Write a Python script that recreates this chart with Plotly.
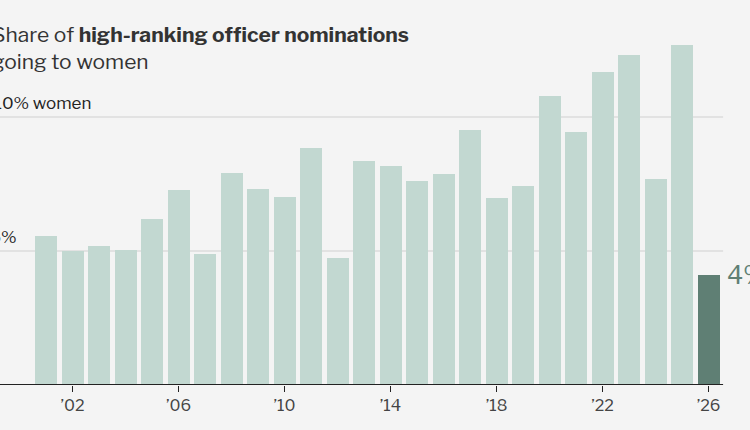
import plotly.graph_objects as go

years = list(range(2001, 2027))
share = [5.56, 5.0, 5.19, 5.04, 6.19, 7.28, 4.89, 7.91, 7.31, 7.01, 8.84, 4.74, 8.36,
         8.17, 7.61, 7.87, 9.51, 6.98, 7.43, 10.78, 9.44, 11.68, 12.31, 7.69, 12.69, 4.10]
tick_years = [2002, 2006, 2010, 2014, 2018, 2022, 2026]
tick_labels = ["\u201902", "\u201906", "\u201910", "\u201914", "\u201918", "\u201922", "\u201926"]

colors = ["#c2d8d1"] * (len(years) - 1) + ["#5f7f74"]
font = "Libre Franklin, Lato, Liberation Sans, sans-serif"

fig = go.Figure()
fig.add_trace(go.Bar(x=years, y=share, marker_color=colors, width=0.83,
                     marker_line_width=0, hoverinfo="skip"))

x0, x1 = 1999.264, 2027.566
for g in [5, 10]:
    fig.add_shape(type="line", x0=x0, x1=2026.55, y0=g, y1=g,
                  line=dict(color="#dcdcdc", width=1.5), layer="below")
fig.add_shape(type="line", x0=x0, x1=2026.55, y0=0, y1=0,
              line=dict(color="#222222", width=2))

fig.add_annotation(x=x0, y=10, xref="x", yref="y", text="10% women", showarrow=False,
                   xanchor="left", yanchor="bottom", xshift=-8, yshift=2,
                   font=dict(size=17, color="#222222", family=font))
fig.add_annotation(x=x0, y=5, xref="x", yref="y", text="5%", showarrow=False,
                   xanchor="left", yanchor="bottom", xshift=-12, yshift=2,
                   font=dict(size=17, color="#222222", family=font))
fig.add_annotation(x=2026, y=share[-1], text="4%", showarrow=False, xanchor="left",
                   yanchor="middle", xshift=16,
                   font=dict(size=25, color="#5f7f74", family=font))
fig.add_annotation(x=0, y=1, xref="paper", yref="paper",
                   text="Share of <b>high-ranking officer nominations</b><br>going to women",
                   showarrow=False, xanchor="left", yanchor="top", align="left",
                   xshift=-10, yshift=-20,
                   font=dict(size=21, color="#333333", family=font))

fig.update_xaxes(range=[x0, x1], tickvals=tick_years, ticktext=tick_labels,
                 ticks="outside", ticklen=6, tickcolor="#222222", showgrid=False,
                 zeroline=False, tickfont=dict(size=16, color="#444444", family=font))
fig.update_yaxes(range=[0, 14.37], showgrid=False, zeroline=False, showticklabels=False)
fig.update_layout(width=750, height=430, margin=dict(l=0, r=0, t=0, b=45),
                  paper_bgcolor="#f4f4f4", plot_bgcolor="#f4f4f4",
                  showlegend=False, bargap=0)

fig.write_html("out.html", config={"displayModeBar": False},
               post_script="document.body.style.margin='0';document.body.style.overflow='hidden';")
